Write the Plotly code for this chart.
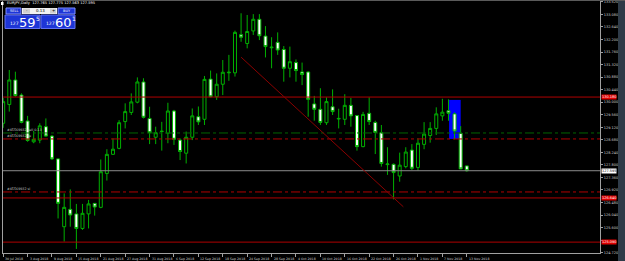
import plotly.graph_objects as go

# ---------------- data ----------------
bar_idx = list(range(77))
opens = [129.26,129.92,130.78,130.25,129.34,128.61,128.67,129.14,128.81,128.01,
         125.63,126.24,126.08,125.57,126.08,126.45,126.31,127.50,128.17,128.38,
         129.32,129.64,130.00,130.71,129.43,128.77,128.97,128.91,129.69,128.67,
         128.21,128.77,129.49,129.40,130.81,130.19,130.63,131.03,131.03,132.37,
         132.06,132.50,132.91,132.32,131.91,132.10,131.85,131.19,131.39,131.06,
         131.06,129.94,129.75,129.28,129.84,129.41,129.40,129.89,129.53,128.44,
         129.61,129.29,128.93,127.81,127.82,127.41,127.74,128.32,127.71,128.52,
         128.83,129.08,129.52,129.70,129.59,128.91,127.765]
highs = [130.15,131.13,131.07,130.31,129.52,128.99,129.26,129.43,128.85,128.03,
         126.80,126.94,126.43,126.43,126.57,126.46,127.99,128.35,128.73,129.37,
         129.96,130.31,130.87,130.84,129.84,129.14,129.31,129.98,129.73,128.73,
         128.97,129.78,129.85,130.92,131.11,131.01,131.48,131.66,132.51,133.12,
         133.06,133.09,133.09,132.67,132.28,132.45,131.97,131.95,131.50,131.39,
         131.08,130.22,130.49,130.17,130.45,129.77,130.28,130.15,129.55,129.66,
         130.17,129.35,129.20,128.42,127.85,128.23,128.42,128.53,128.73,129.30,
         129.30,129.82,130.12,130.10,129.64,129.16,127.775]
lows = [129.10,129.67,130.19,129.26,128.61,128.56,128.56,128.79,127.97,125.92,
        125.11,125.63,124.85,125.52,125.57,126.02,126.28,127.25,128.15,128.35,
        129.08,129.55,129.96,129.43,128.53,128.53,128.30,128.56,128.50,127.97,
        127.85,128.67,129.20,129.20,130.17,130.08,130.25,130.75,130.90,132.12,
        131.89,132.36,132.18,131.57,131.19,131.66,130.72,130.87,130.72,130.60,
        129.49,129.35,129.20,129.20,129.55,129.08,129.20,129.14,128.30,128.42,
        129.20,128.18,127.74,127.45,126.59,127.21,127.68,127.62,127.60,128.35,
        128.58,128.85,129.35,129.35,128.70,127.65,127.563]
closes = [130.02,130.78,130.23,129.29,128.66,128.70,129.17,128.81,128.01,126.45,
          126.31,126.04,125.57,126.10,126.43,126.32,127.56,128.17,128.35,129.28,
          129.67,130.01,130.71,129.47,128.93,128.93,128.98,129.69,128.70,128.27,
          128.77,129.52,129.31,130.80,130.19,130.63,131.05,131.05,132.45,132.28,
          132.48,132.91,132.33,131.95,131.93,131.83,131.19,131.42,131.11,130.97,
          130.10,129.75,129.29,130.02,129.67,129.43,129.89,129.52,128.44,129.57,
          129.32,128.94,127.85,127.83,127.53,127.79,128.25,127.68,128.56,128.88,
          129.08,129.59,129.65,129.61,128.99,127.66,127.595]

date_tick_idx = list(range(0, 77, 4))
date_labels = ["30 Jul 2018", "3 Aug 2018", "9 Aug 2018", "15 Aug 2018", "21 Aug 2018",
               "27 Aug 2018", "31 Aug 2018", "6 Sep 2018", "12 Sep 2018", "18 Sep 2018",
               "24 Sep 2018", "28 Sep 2018", "4 Oct 2018", "10 Oct 2018", "16 Oct 2018",
               "22 Oct 2018", "26 Oct 2018", "1 Nov 2018", "7 Nov 2018", "13 Nov 2018"]
price_ticks = [round(124.72 + 0.44 * k, 3) for k in range(21)]

bid = 127.595
red_levels = [130.18, 126.64, 125.09]
order_open = 128.92
order_levels = [128.71, 126.85]
order_texts = ["#45569932 sell 0.13", "#45569932 tp", "#45569932 sl"]
trend_x = [39, 65.6]
trend_y = [131.58, 126.33]
box_x = [73.1, 75.0]
box_y = [128.71, 130.08]
title_text = "EURJPY,Daily  127.765 127.775 127.563 127.595"

# ---------------- layout helpers ----------------
W, H = 625, 261
ML, MR, MT, MB = 3, 25, 1, 8
PW, PH = W - ML - MR, H - MT - MB
def px(x):
    return (x - ML) / PW
def py(y):
    return (H - MB - y) / PH

GREEN = "#00b000"
RED = "#b00000"
FONT = "DejaVu Sans"

fig = go.Figure()
fig.add_trace(go.Candlestick(
    x=bar_idx, open=opens, high=highs, low=lows, close=closes,
    increasing=dict(line=dict(color=GREEN, width=1), fillcolor="#000000"),
    decreasing=dict(line=dict(color=GREEN, width=1), fillcolor="#ffffff"),
    whiskerwidth=0, showlegend=False, hoverinfo="skip"))

shapes = []
shapes.append(dict(type="rect", xref="x", yref="y", x0=box_x[0], x1=box_x[1],
                   y0=box_y[0], y1=box_y[1], fillcolor="#0000ff", line=dict(width=0),
                   layer="below"))
for lv in red_levels:
    shapes.append(dict(type="line", xref="paper", yref="y", x0=0, x1=1, y0=lv, y1=lv,
                       line=dict(color=RED, width=1)))
shapes.append(dict(type="line", xref="paper", yref="y", x0=0, x1=1, y0=order_open, y1=order_open,
                   line=dict(color="#006400", width=1, dash="dashdot")))
for lv in order_levels:
    shapes.append(dict(type="line", xref="paper", yref="y", x0=0, x1=1, y0=lv, y1=lv,
                       line=dict(color=RED, width=1, dash="dashdot")))
shapes.append(dict(type="line", xref="paper", yref="y", x0=0, x1=1, y0=bid, y1=bid,
                   line=dict(color="#8c8c8c", width=1)))
shapes.append(dict(type="line", xref="x", yref="y", x0=trend_x[0], x1=trend_x[1],
                   y0=trend_y[0], y1=trend_y[1], line=dict(color="#8a0000", width=1)))
shapes.append(dict(type="rect", xref="paper", yref="paper", x0=px(618), x1=px(626),
                   y0=py(262), y1=py(-1), fillcolor="#2f3b48", line=dict(width=0)))
shapes.append(dict(type="line", xref="paper", yref="paper", x0=px(0), x1=px(625),
                   y0=py(0.5), y1=py(0.5), line=dict(color="#5a5a5a", width=1)))

BLUE = "#1d35d6"
def prect(x0, x1, y0, y1, fill, lc=None):
    shapes.append(dict(type="rect", xref="paper", yref="paper", x0=px(x0), x1=px(x1),
                       y0=py(y1), y1=py(y0), fillcolor=fill,
                       line=dict(width=1 if lc else 0, color=lc or fill)))
prect(1, 3.5, 2, 5, "#ffffff")
prect(6, 21, 8, 14, BLUE, "#8090ff")
prect(22, 57, 8, 14, "#f2f2f2")
prect(23, 30, 8.5, 13.5, "#d0d0d0")
prect(50, 56, 8.5, 13.5, "#d0d0d0")
prect(58, 75, 8, 14, BLUE, "#8090ff")
prect(5, 40, 15, 28.5, BLUE, "#6070f0")
prect(41, 75, 15, 28.5, BLUE, "#6070f0")

ann = []
def ptext(x, y, t, size, color="#ffffff", xa="left"):
    ann.append(dict(xref="paper", yref="paper", x=px(x), y=py(y), text=t, showarrow=False,
                    xanchor=xa, yanchor="middle", font=dict(family=FONT, size=size, color=color)))
ptext(5, 3.5, title_text, 3.6)
ptext(13.5, 11, "SELL", 3.5, xa="center")
ptext(26.5, 11, "-", 4, "#000000", xa="center")
ptext(40, 11, "0.13", 4, "#000000", xa="center")
ptext(53, 11, "+", 4, "#000000", xa="center")
ptext(66.5, 11, "BUY", 3.5, xa="center")
ptext(8, 23.5, "127", 4.5)
ptext(17, 22, "59", 13)
ptext(34, 18.5, "5", 6)
ptext(44, 23.5, "127", 4.5)
ptext(53, 22, "60", 13)
ptext(70, 18.5, "1", 6)

for lv, t in zip([order_open] + order_levels, order_texts):
    ann.append(dict(xref="paper", yref="y", x=px(5), y=lv, text=t, showarrow=False,
                    xanchor="left", yanchor="bottom", yshift=-1,
                    font=dict(family=FONT, size=3.3, color="#c8c8c8")))
for i, t in zip(date_tick_idx, date_labels):
    ann.append(dict(xref="x", yref="paper", x=i, y=0, text=t, showarrow=False,
                    xanchor="left", yanchor="top", yshift=-2, xshift=0,
                    font=dict(family=FONT, size=3.2, color="#d0d0d0")))
for lv in red_levels:
    ann.append(dict(xref="paper", yref="y", x=px(601), y=lv, text=f"{lv:.3f}", showarrow=False,
                    xanchor="left", yanchor="middle", bgcolor="#e00000", borderpad=0,
                    font=dict(family=FONT, size=3.5, color="#ffffff")))
ann.append(dict(xref="paper", yref="y", x=px(601), y=bid, text=f"{bid:.3f}", showarrow=False,
                xanchor="left", yanchor="middle", bgcolor="#ffffff", borderpad=0,
                font=dict(family=FONT, size=3.5, color="#000000")))

# tick labels hidden behind the price boxes (as in the terminal)
box_levels = red_levels + [bid]
tick_text = ["" if any(abs(v - b) < 0.1 for b in box_levels) else f"{v:.3f}" for v in price_ticks]

fig.update_layout(
    width=W, height=H, margin=dict(l=ML, r=MR, t=MT, b=MB),
    paper_bgcolor="#000000", plot_bgcolor="#000000",
    shapes=shapes, annotations=ann, showlegend=False,
    xaxis=dict(range=[-0.03, 97.84], showgrid=False, zeroline=False,
               rangeslider=dict(visible=False), tickvals=date_tick_idx,
               showticklabels=False, ticks="outside", ticklen=3, tickcolor="#a0a0a0",
               showline=True, linecolor="#a0a0a0", linewidth=1, mirror=False),
    yaxis=dict(range=[124.708, 133.551], side="right", showgrid=False, zeroline=False,
               tickvals=price_ticks, ticktext=tick_text,
               ticks="outside", ticklen=2, tickcolor="#a0a0a0",
               tickfont=dict(family=FONT, size=3.5, color="#d0d0d0"),
               showline=True, linecolor="#a0a0a0", linewidth=1, mirror=True),
)
fig.write_html("out.html")
